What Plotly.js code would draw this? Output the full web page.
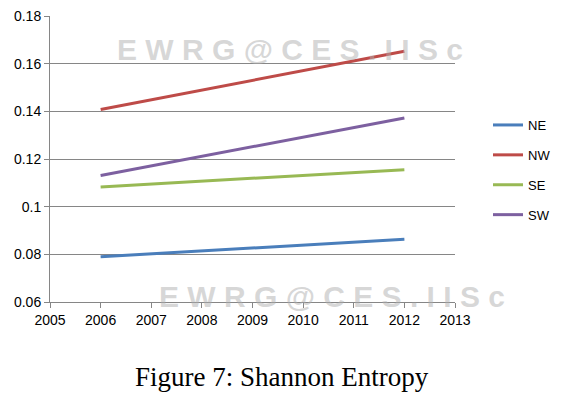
<!DOCTYPE html>
<html><head><meta charset="utf-8">
<script src="https://cdn.plot.ly/plotly-3.0.1.min.js"></script>
<style>body{margin:0;background:#fff}#chart{width:564px;height:398px}</style>
</head><body><div id="chart"></div>
<script>
var years = [2006, 2012];
var seriesNames = ["NE", "NW", "SE", "SW"];
var NE = [0.0790, 0.0863];
var NW = [0.1408, 0.1652];
var SE = [0.1083, 0.1155];
var SW = [0.1131, 0.1372];
var colors = ["#4A7EBB", "#BE4B48", "#98B954", "#7D60A0"];
var xTicks = [2005, 2006, 2007, 2008, 2009, 2010, 2011, 2012, 2013];
var yTicks = [0.06, 0.08, 0.1, 0.12, 0.14, 0.16, 0.18];
var yTickText = ["0.06", "0.08", "0.1", "0.12", "0.14", "0.16", "0.18"];

var data = [NE, NW, SE, SW].map(function (vals, i) {
  return {
    x: years, y: vals, name: seriesNames[i], type: "scatter", mode: "lines",
    line: {color: colors[i], width: 3}, legendgroup: "g" + i
  };
});

var wm = "E W R G @ C E S . I I S c";
var wmFont = {family: "Liberation Sans, Arial, sans-serif", size: 30, color: "rgba(175,175,175,0.5)", weight: "bold"};
var layout = {
  width: 564, height: 398,
  margin: {l: 50, r: 109, t: 16, b: 96},
  paper_bgcolor: "#fff", plot_bgcolor: "#fff",
  font: {family: "Liberation Sans, Arial, sans-serif", size: 14, color: "#000"},
  xaxis: {
    range: [2005, 2013], tickvals: xTicks, ticktext: xTicks.map(String),
    showgrid: false, zeroline: false, showline: true, linecolor: "#868686", linewidth: 1,
    ticks: "outside", ticklen: 5, tickcolor: "#868686", fixedrange: true
  },
  yaxis: {
    range: [0.06, 0.18], tickvals: yTicks, ticktext: yTickText,
    showgrid: true, gridcolor: "#868686", gridwidth: 1, zeroline: false,
    showline: true, linecolor: "#868686", linewidth: 1,
    ticks: "outside", ticklen: 5, tickcolor: "#868686", fixedrange: true
  },
  showlegend: true,
  legend: {
    xref: "container", yref: "container",
    x: 488 / 564, xanchor: "left", y: 1 - 170 / 398, yanchor: "middle",
    font: {size: 13}, tracegroupgap: 10, traceorder: "grouped",
    bgcolor: "rgba(0,0,0,0)"
  },
  annotations: [
    {text: wm, xref: "paper", yref: "paper", x: (290 - 50) / 405, y: (302 - 50) / 286,
     xanchor: "center", yanchor: "middle", showarrow: false, font: wmFont},
    {text: wm, xref: "paper", yref: "paper", x: (332 - 50) / 405, y: (302 - 296) / 286,
     xanchor: "center", yanchor: "middle", showarrow: false, font: wmFont},
    {text: "Figure 7: Shannon Entropy", xref: "paper", yref: "paper", x: (282 - 50) / 405, y: (302 - 377) / 286,
     xanchor: "center", yanchor: "middle",
     showarrow: false, font: {family: "Liberation Serif, Times New Roman, serif", size: 27, color: "#000"}}
  ]
};
Plotly.newPlot("chart", data, layout, {staticPlot: true});
</script></body></html>
